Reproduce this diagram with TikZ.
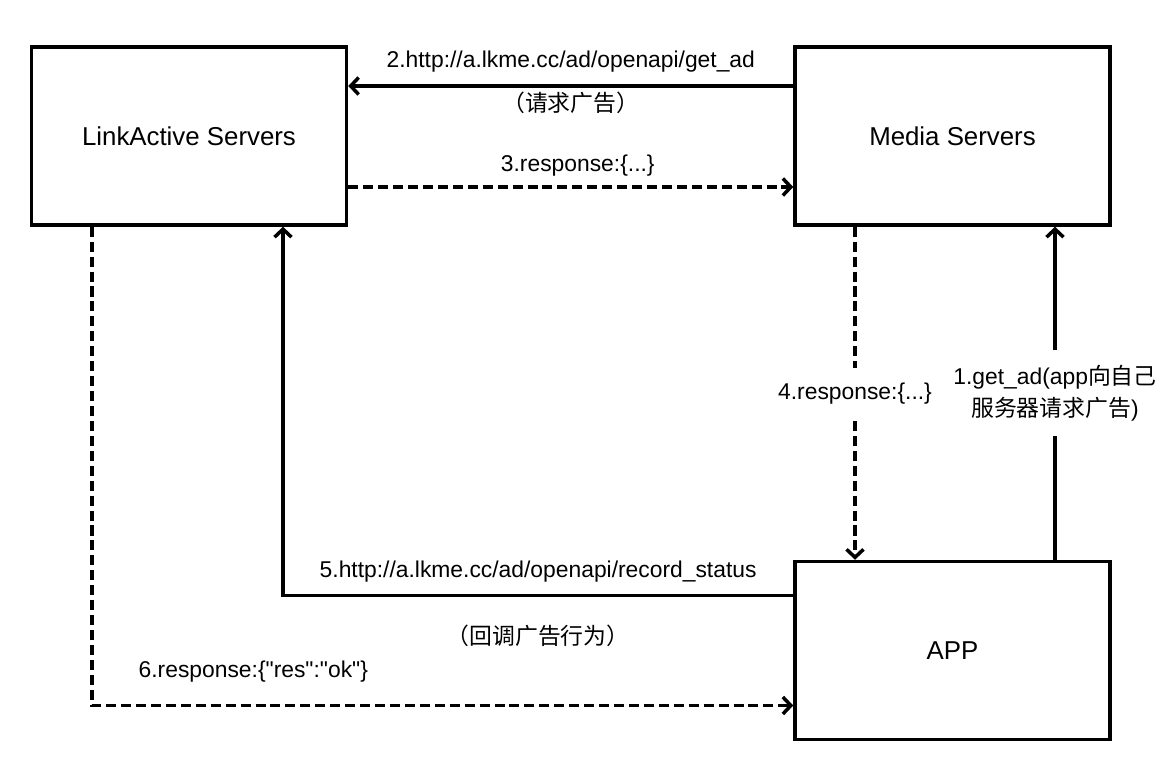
\documentclass[tikz,border=0pt]{standalone}
\usepackage{fontspec}
\setmainfont{Liberation Sans}
\newfontfamily\plainfont{Liberation Sans}
\newfontfamily\cjk{Noto Sans CJK SC}
\usetikzlibrary{positioning, arrows.meta}

\begin{document}
\begin{tikzpicture}
\tikzstyle{server}=[draw, rectangle, line width=2pt, minimum width=6.3cm, minimum height=3.56cm, font=\fontsize{14.7}{18}\selectfont]
\tikzstyle{call}=[draw, line width=2pt, -{Straight Barb[length=1.6mm, width=3.4mm]}]
\tikzstyle{reply}=[call, dash pattern=on 5.7pt off 2.8pt]
\tikzstyle{txt}=[font=\fontsize{13}{18}\selectfont, align=center]

\useasboundingbox (0,0) rectangle (23.4,15.44);

\node[server](link) at (3.78,12.72){LinkActive Servers};
\node[server, right=8.9cm of link](media){Media Servers};
\node[server, below=6.66cm of media](app){APP};

\path[call]([xshift=2.05cm]app.north) -- ([xshift=2.05cm]media.south)
	node[txt, midway, fill=white, inner xsep=1pt, inner ysep=0.3cm]{1.get\_ad(app{\cjk 向自己}\\{\cjk 服务器请求广告})};
\path[call]([yshift=1cm]media.west) -- ([yshift=1cm]link.east)
	node[txt, midway, yshift=0.48cm]{2.http://a.lkme.cc/ad/openapi/get\_ad}
	node[txt, midway, yshift=-0.34cm]{{\cjk （请求广告）}};
\path[reply]([yshift=-1.02cm]link.east) -- ([yshift=-1.02cm]media.west)
	node[txt, midway, xshift=0.14cm, yshift=0.42cm]{3.response:\{...\}};
\path[reply]([xshift=-1.95cm]media.south) -- ([xshift=-1.95cm]app.north)
	node[txt, midway, fill=white, inner xsep=1pt, inner ysep=0.3cm]{4.response:\{...\}};
\path[call]([yshift=1.1cm]app.west) -| ([xshift=1.88cm]link.south)
	node[txt, pos=0.25, yshift=0.48cm]{5.http://a.lkme.cc/ad/openapi/record\_status}
	node[txt, pos=0.25, yshift=-0.8cm]{{\cjk （回调广告行为）}};
\path[reply]([xshift=-1.94cm]link.south) |- ([yshift=-1.1cm]app.west)
	node[txt, pos=0.615, yshift=0.68cm]{\plainfont 6.response:\{"res":"ok"\}};

\end{tikzpicture}
\end{document}
